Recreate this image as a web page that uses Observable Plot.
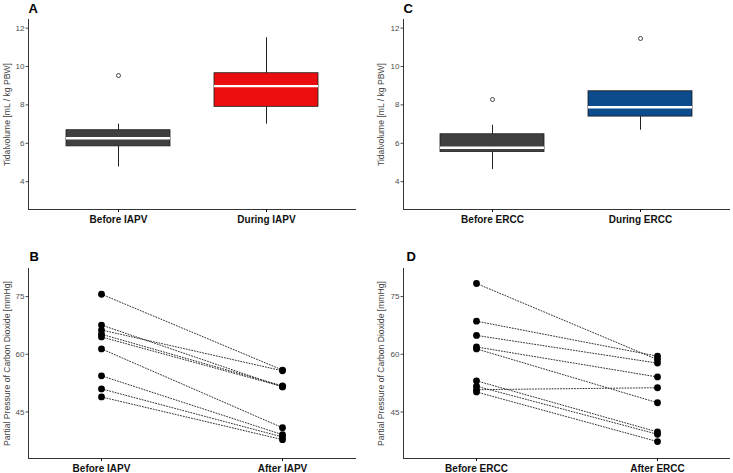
<!DOCTYPE html>
<html>
<head>
<meta charset="utf-8">
<script src="https://cdn.jsdelivr.net/npm/d3@7"></script>
<script src="https://cdn.jsdelivr.net/npm/@observablehq/plot@0.6"></script>
<style>
  html, body { margin: 0; padding: 0; background: #fff; }
  #fig { position: relative; width: 733px; height: 473px; overflow: hidden; }
  #fig svg { position: absolute; }
</style>
</head>
<body>
<div id="fig"></div>
<script>
// ---- Tidal volume box summaries (mL / kg PBW) ----
const iapvGroups = ["Before IAPV", "During IAPV"];
const iapvMin    = [4.76, 7.0];
const iapvQ1     = [5.84, 7.9];
const iapvMedian = [6.26, 8.98];
const iapvQ3     = [6.68, 9.65];
const iapvMax    = [7.0, 11.5];
const iapvOutlierGroup = ["Before IAPV"];
const iapvOutlierValue = [9.53];

const erccGroups = ["Before ERCC", "During ERCC"];
const erccMin    = [4.63, 6.68];
const erccQ1     = [5.55, 7.39];
const erccMedian = [5.77, 7.88];
const erccQ3     = [6.47, 8.71];
const erccMax    = [6.94, 8.71];
const erccOutlierGroup = ["Before ERCC", "During ERCC"];
const erccOutlierValue = [8.28, 11.46];

const tvTicks = [4, 6, 8, 10, 12];

// ---- Paired PaCO2 measurements (mmHg) ----
const pairIAPV = ["Before IAPV", "After IAPV"];
const paco2BeforeIAPV = [75.6, 67.6, 66.3, 65.2, 64.5, 61.4, 54.4, 51.0, 48.9];
const paco2AfterIAPV  = [55.9, 51.5, 55.7, 51.8, 51.6, 40.9, 39.1, 38.5, 37.8];

const pairERCC = ["Before ERCC", "After ERCC"];
const paco2BeforeERCC = [78.4, 68.6, 64.9, 61.9, 61.4, 53.1, 51.7, 50.8, 50.2];
const paco2AfterERCC  = [58.6, 59.5, 57.7, 54.1, 47.4, 39.8, 39.2, 51.3, 37.3];

const paco2Ticks = [45, 60, 75];

const tvTitle = "Tidalvolume [mL / kg PBW]";
const paco2Title = "Partial Pressure of Carbon Dioxide [mmHg]";

const FONT = "'Liberation Sans', Arial, Helvetica, sans-serif";
const fig = document.getElementById("fig");

function boxRows(groups, min, q1, med, q3, max) {
  return groups.map((g, i) => ({group: g, min: min[i], q1: q1[i], median: med[i], q3: q3[i], max: max[i]}));
}

function commonMarks(letter, title, ticks, letterDx, letterDy, titleDx) {
  return [
    Plot.frame({anchor: "left", stroke: "#333", strokeWidth: 1}),
    Plot.frame({anchor: "bottom", stroke: "#333", strokeWidth: 1}),
    Plot.axisY({ticks, tickSize: 2.5, tickPadding: 1.5, fontSize: 8, color: "#4d4d4d", label: null}),
    Plot.axisX({tickSize: 3, tickPadding: 3, fontSize: 10, fontWeight: "bold", color: "#111", label: null}),
    Plot.text([letter], {frameAnchor: "top-left", text: d => d, dx: letterDx, dy: letterDy,
      textAnchor: "start", fontSize: 13, fontWeight: "bold", fill: "#000"}),
    Plot.text([title], {frameAnchor: "left", text: d => d, rotate: -90, dx: titleDx,
      textAnchor: "middle", lineAnchor: "middle", fontSize: 8.6, fill: "#444"})
  ];
}

function boxPanel({groups, rows, outGroup, outValue, fills, letter, left, top, width, height, margins, titleDx, letterDx}) {
  const outliers = outGroup.map((g, i) => ({group: g, value: outValue[i]}));
  const svg = Plot.plot({
    width, height,
    marginLeft: margins[0], marginRight: margins[1], marginTop: margins[2], marginBottom: margins[3],
    style: {fontFamily: FONT, background: "transparent"},
    x: {type: "band", domain: groups, paddingInner: 0.3, paddingOuter: 0.25},
    y: {domain: [2.55, 12.45]},
    marks: [
      Plot.ruleX(rows, {x: "group", y1: "q3", y2: "max", stroke: "#222", strokeWidth: 1}),
      Plot.ruleX(rows, {x: "group", y1: "min", y2: "q1", stroke: "#222", strokeWidth: 1}),
      Plot.barY(rows, {x: "group", y1: "q1", y2: "q3", fill: (d, i) => fills[i], stroke: "#1a1a1a", strokeWidth: 0.8}),
      Plot.tickY(rows, {x: "group", y: "median", stroke: "#fff", strokeWidth: 2.4}),
      Plot.dot(outliers, {x: "group", y: "value", r: 2, stroke: "#333", strokeWidth: 0.9, fill: "#fff"}),
      ...commonMarks(letter, tvTitle, tvTicks, letterDx, -16, titleDx)
    ]
  });
  svg.style.left = left + "px";
  svg.style.top = top + "px";
  fig.appendChild(svg);
}

function pairPanel({groups, before, after, letter, left, top, width, height, margins, titleDx, letterDx}) {
  const rows = [];
  before.forEach((v, i) => rows.push({id: i, time: groups[0], value: v}));
  after.forEach((v, i) => rows.push({id: i, time: groups[1], value: v}));
  const svg = Plot.plot({
    width, height,
    marginLeft: margins[0], marginRight: margins[1], marginTop: margins[2], marginBottom: margins[3],
    style: {fontFamily: FONT, background: "transparent"},
    x: {type: "point", domain: groups, padding: 0.4},
    y: {domain: [32.9, 82.3]},
    marks: [
      Plot.line(rows, {x: "time", y: "value", z: "id", stroke: "#333", strokeWidth: 1, strokeDasharray: "1,1.8"}),
      Plot.dot(rows, {x: "time", y: "value", r: 3.4, fill: "#000"}),
      ...commonMarks(letter, paco2Title, paco2Ticks, letterDx, -17, titleDx)
    ]
  });
  svg.style.left = left + "px";
  svg.style.top = top + "px";
  fig.appendChild(svg);
}

boxPanel({
  groups: iapvGroups,
  rows: boxRows(iapvGroups, iapvMin, iapvQ1, iapvMedian, iapvQ3, iapvMax),
  outGroup: iapvOutlierGroup, outValue: iapvOutlierValue,
  fills: ["#404040", "#ec0e0e"], letter: "A",
  left: 0, top: 0, width: 366, height: 236, margins: [28, 11, 19, 27], titleDx: -21, letterDx: 0
});

boxPanel({
  groups: erccGroups,
  rows: boxRows(erccGroups, erccMin, erccQ1, erccMedian, erccQ3, erccMax),
  outGroup: erccOutlierGroup, outValue: erccOutlierValue,
  fills: ["#404040", "#0d4c8c"], letter: "C",
  left: 366, top: 0, width: 367, height: 236, margins: [37, 4, 19, 27], titleDx: -22, letterDx: 0
});

pairPanel({
  groups: pairIAPV, before: paco2BeforeIAPV, after: paco2AfterIAPV, letter: "B",
  left: 0, top: 236, width: 366, height: 237, margins: [28, 11, 32, 15], titleDx: -21, letterDx: 1
});

pairPanel({
  groups: pairERCC, before: paco2BeforeERCC, after: paco2AfterERCC, letter: "D",
  left: 366, top: 236, width: 367, height: 237, margins: [37, 4, 32, 15], titleDx: -22, letterDx: 3
});
</script>
</body>
</html>
